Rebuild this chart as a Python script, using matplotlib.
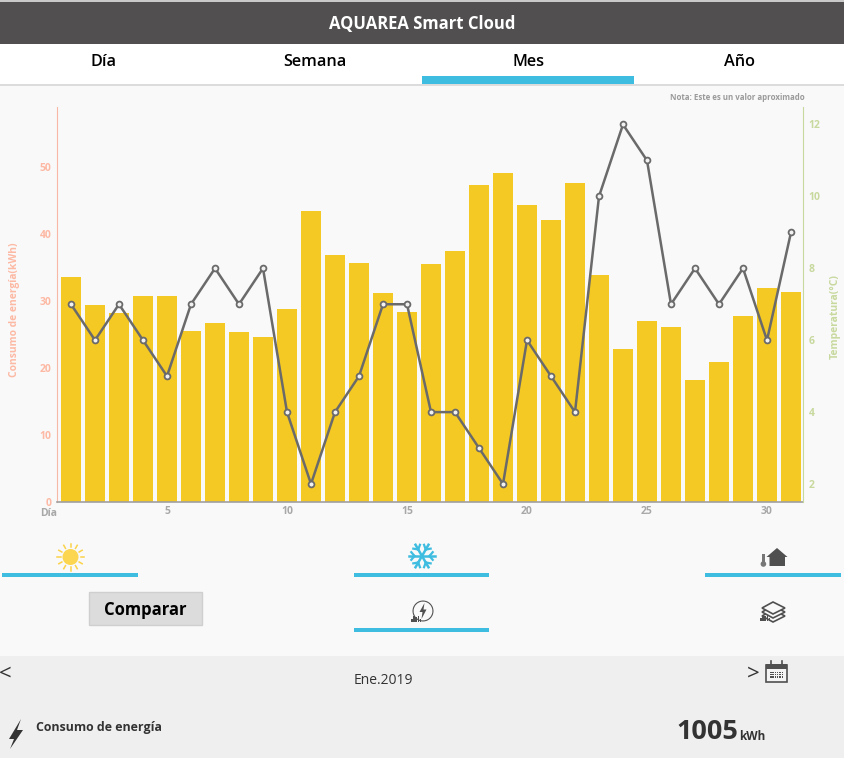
import numpy as np
import matplotlib
matplotlib.use('Agg')
import matplotlib.pyplot as plt
from matplotlib.patches import Rectangle, Circle, Polygon, Wedge

plt.rcParams['font.family'] = ['Open Sans', 'DejaVu Sans']

days = list(range(1, 32))
consumo = [33.6, 29.4, 28.2, 30.7, 30.7, 25.5, 26.7, 25.4, 24.6, 28.8, 43.4,
           36.9, 35.7, 31.2, 28.4, 35.5, 37.5, 47.3, 49.1, 44.3, 42.1, 47.6,
           33.9, 22.8, 27.0, 26.1, 18.2, 20.9, 27.8, 31.9, 31.3]
temperatura = [7, 6, 7, 6, 5, 7, 8, 7, 8, 4, 2, 4, 5, 7, 7, 4, 4, 3, 2, 6, 5, 4,
               10, 12, 11, 7, 8, 7, 8, 6, 9]
left_ticks = [0, 10, 20, 30, 40, 50]
right_ticks = [2, 4, 6, 8, 10, 12]
day_ticks = [5, 10, 15, 20, 25, 30]
tabs = ['Día', 'Semana', 'Mes', 'Año']

BLUE = '#3fbde0'
DARK = '#514f50'
ICON = '#505050'
SALMON = '#fdb9a4'
GREEN = '#c8d99e'
GREY = '#a8a8a8'

fig = plt.figure(figsize=(8.44, 7.58), dpi=100, facecolor='#f9f9f9')

# page chrome, in pixel coordinates
ui = fig.add_axes([0, 0, 1, 1])
ui.set_xlim(0, 844)
ui.set_ylim(758, 0)
ui.axis('off')

ui.add_patch(Rectangle((0, 0), 844, 2, color='#c9c9c9', lw=0))
ui.add_patch(Rectangle((0, 2), 844, 42, color=DARK, lw=0))
ui.add_patch(Rectangle((0, 84), 844, 2, color='#dcdcdc', lw=0))
ui.add_patch(Rectangle((0, 44), 844, 40, color='white', lw=0))
ui.add_patch(Rectangle((422, 76), 212, 8, color=BLUE, lw=0))
ui.add_patch(Rectangle((0, 656), 844, 102, color='#efefef', lw=0))
ui.text(422, 24, 'AQUAREA Smart Cloud', color='white', fontsize=12, fontweight='bold', ha='center', va='center')
for label, x in zip(tabs, [103, 315, 528, 740]):
    ui.text(x, 62.5, label, color='black', fontsize=11.7, fontweight='semibold', ha='center', va='center')
ui.text(805, 98, 'Nota: Este es un valor aproximado', color='#9a9a9a', fontsize=5.7, fontweight='bold', ha='right', va='center')

# underlines of the selector buttons
for x0, x1, y in [(2, 138, 573), (354, 489, 573), (705, 841, 573), (354, 489, 628)]:
    ui.add_patch(Rectangle((x0, y), x1 - x0, 4, color=BLUE, lw=0))

# sun
for a in np.arange(0, 360, 30):
    c, s = np.cos(np.radians(a)), np.sin(np.radians(a))
    ui.plot([70.5 + 10 * c, 70.5 + 13.5 * c], [557 + 10 * s, 557 + 13.5 * s], color='#fbd34a', lw=1.1)
ui.add_patch(Circle((70.5, 557), 8, color='#fcd651', lw=0))

# snowflake
for a in np.arange(0, 360, 60):
    c, s = np.cos(np.radians(a)), np.sin(np.radians(a))
    ui.plot([422, 422 + 13 * c], [556, 556 + 13 * s], color=BLUE, lw=1.8)
    for b in (-50, 50):
        cb, sb = np.cos(np.radians(a + b)), np.sin(np.radians(a + b))
        ui.plot([422 + 7.5 * c, 422 + 7.5 * c + 5 * cb], [556 + 7.5 * s, 556 + 7.5 * s + 5 * sb], color=BLUE, lw=1.6)

# house with thermometer
ui.add_patch(Polygon([(766.5, 557), (777, 548), (787.5, 557), (785, 557), (785, 566), (769.5, 566), (769.5, 557)], color=ICON, lw=0))
ui.add_patch(Rectangle((762, 554), 2.8, 10, color='#777777', lw=0))
ui.add_patch(Circle((763.4, 564), 2.8, color='#777777', lw=0))

# little bars used by the two lower icons
def mini_bars(x, y):
    for i, h in enumerate([3, 6, 5, 6, 3]):
        ui.add_patch(Rectangle((x + i * 2.2, y - h), 1.6, h, color=ICON, lw=0))

# power icon
ui.add_patch(Wedge((423, 611), 10.5, 0, 360, width=1.1, color=ICON, lw=0))
ui.add_patch(Polygon([(424.5, 603), (419.5, 612), (422.5, 612), (421.5, 619), (426.5, 609.5), (423.5, 609.5)], color=ICON, lw=0))
mini_bars(411, 622)

# stacked layers icon
for y in [616, 612, 608]:
    ui.add_patch(Polygon([(762, y), (773, y - 6), (785, y), (773, y + 6)], facecolor='#f9f9f9', edgecolor=ICON, lw=1.2))
mini_bars(760, 621)

# compare button
ui.add_patch(Rectangle((89, 592), 113, 33, facecolor='#dcdcdc', edgecolor='#cfcfcf', lw=1))
ui.text(145.5, 610, 'Comparar', color='black', fontsize=12, fontweight='bold', ha='center', va='center')

# bottom band
ui.text(5, 674, '<', color='#333333', fontsize=16, ha='center', va='center')
ui.text(753, 674, '>', color='#333333', fontsize=16, ha='center', va='center')
ui.text(383, 680, 'Ene.2019', color='#333333', fontsize=10, ha='center', va='center')
ui.add_patch(Rectangle((766, 665), 21, 17, facecolor='#f4f4f4', edgecolor=ICON, lw=1.2))
ui.add_patch(Rectangle((766, 664), 21, 5, color=ICON, lw=0))
for x in (771, 782):
    ui.plot([x, x], [661, 666], color=ICON, lw=1.2)
for row in range(3):
    for col in range(6):
        ui.add_patch(Rectangle((770 + col * 2.3, 671.5 + row * 2.3), 1.5, 1.5, color=ICON, lw=0))
ui.add_patch(Polygon([(21, 719), (9, 739), (14, 739), (10, 749), (23, 730), (17, 730)], color='#333333', lw=0))
ui.text(36, 728, 'Consumo de energía', color='#333333', fontsize=8.9, fontweight='bold', ha='left', va='center')
ui.text(707, 732, '1005', color='#333333', fontsize=19.5, fontweight='bold', ha='center', va='center')
ui.text(752, 736, 'kWh', color='#333333', fontsize=8.5, fontweight='bold', ha='center', va='center')

# chart, axes spans x 57..803 and y 107..502 in pixels
ax = fig.add_axes([57 / 844, 1 - 502 / 758, (803 - 57) / 844, (502 - 107) / 758])
ax.patch.set_alpha(0)
ax.bar(days, consumo, width=20 / 24, color='#f5c924', zorder=2)
ax.set_xlim(1 - 14 / 24, 31 + 12 / 24)
ax.set_ylim(0, 395 / 6.7)
ax.set_xticks(day_ticks)
ax.set_yticks(left_ticks)
ax.tick_params(axis='x', length=0, pad=3, labelsize=7.5, labelcolor=GREY)
ax.tick_params(axis='y', length=0, pad=4, labelsize=7.5, labelcolor=SALMON)
for t in ax.get_xticklabels() + ax.get_yticklabels():
    t.set_fontweight('bold')
ax.spines['top'].set_visible(False)
ax.spines['right'].set_visible(False)
ax.spines['left'].set_color('#f7b9a5')
ax.spines['bottom'].set_color('#a0a0a0')
ax.spines['bottom'].set_linewidth(1.2)
ax.set_ylabel('Consumo de energía(kWh)', color=SALMON, fontsize=7.4, fontweight='bold')
ax.yaxis.set_label_coords(-37.5 / 746, 0.486)

ax2 = ax.twinx()
ax2.patch.set_alpha(0)
ax2.plot(days, temperatura, color='#6a6a6a', lw=1.8, marker='o', ms=4.2, mfc='#f2f2f2', mec='#6a6a6a', mew=1.3, zorder=3)
ax2.set_ylim(2 - 18 / 35.95, 2 + (484 - 107) / 35.95)
ax2.set_yticks(right_ticks)
ax2.tick_params(axis='y', length=0, pad=4, labelsize=7.5, labelcolor=GREEN)
for t in ax2.get_yticklabels():
    t.set_fontweight('bold')
ax2.spines['top'].set_visible(False)
ax2.spines['left'].set_visible(False)
ax2.spines['bottom'].set_visible(False)
ax2.spines['right'].set_color(GREEN)
ax2.set_ylabel('Temperatura(°C)', color=GREEN, fontsize=7.5, fontweight='bold')
ax2.yaxis.set_label_coords(1 + 27 / 746, 0.47)

ui.text(49, 514, 'Día', color=GREY, fontsize=7.5, fontweight='bold', ha='center', va='center')

fig.savefig('out.png', dpi=100, facecolor=fig.get_facecolor())
